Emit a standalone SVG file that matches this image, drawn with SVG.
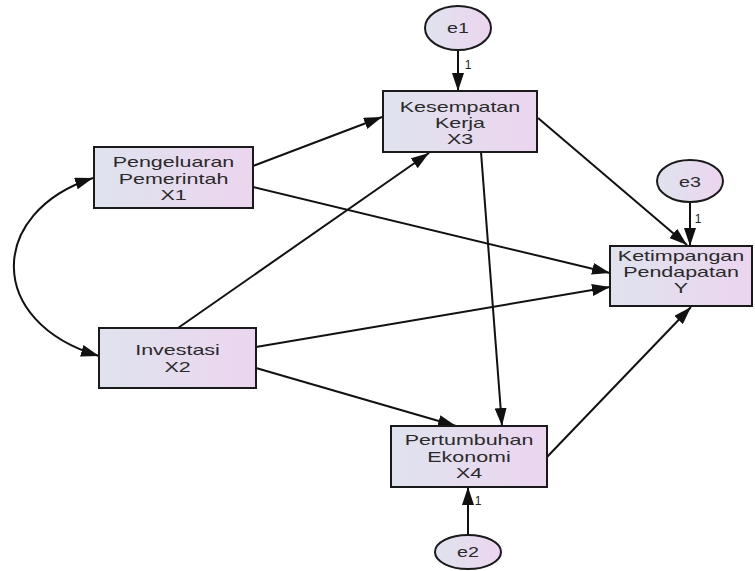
<svg xmlns="http://www.w3.org/2000/svg" width="755" height="571" viewBox="0 0 755 571">
<defs>
<linearGradient id="g" x1="0" y1="0" x2="1" y2="0">
<stop offset="0" stop-color="#dfe3ee"/>
<stop offset="1" stop-color="#ecd5ef"/>
</linearGradient>
<marker id="ah" markerUnits="userSpaceOnUse" markerWidth="18" markerHeight="12" refX="18" refY="6" orient="auto-start-reverse" viewBox="0 0 18 12">
<path d="M0,0 L18,6 L0,12 z" fill="#111"/>
</marker>
</defs>
<style>
.box{fill:url(#g);stroke:#1a1a1a;stroke-width:2}
.t{font-family:"Liberation Sans",Arial,sans-serif;font-size:14.5px;text-anchor:middle;fill:#2a2a2a}
.te{font-family:"Liberation Sans",Arial,sans-serif;font-size:14.5px;text-anchor:middle;fill:#2a2a2a}
.tl{font-family:"Liberation Sans",Arial,sans-serif;font-size:12px;text-anchor:middle;fill:#222}
.c{stroke:#111;stroke-width:2;fill:none;marker-end:url(#ah)}
</style>
<rect width="755" height="571" fill="#fff"/>
<g id="connectors">
<path class="c" d="M93,178 C-12,212 -15,322 99,356" marker-start="url(#ah)"/>
<line class="c" x1="253" y1="166" x2="382" y2="117"/>
<line class="c" x1="253" y1="187" x2="610" y2="273"/>
<line class="c" x1="178" y1="328" x2="429" y2="153"/>
<line class="c" x1="256" y1="347" x2="610" y2="287"/>
<line class="c" x1="256" y1="368" x2="456" y2="426"/>
<line class="c" x1="481" y1="152" x2="502" y2="426"/>
<line class="c" x1="538" y1="118" x2="687" y2="245"/>
<line class="c" x1="547" y1="457" x2="691" y2="307"/>
<line class="c" x1="458" y1="50" x2="458" y2="91"/>
<line class="c" x1="690" y1="202" x2="690" y2="246"/>
<line class="c" x1="468" y1="535" x2="468" y2="487"/>
<text class="tl" x="468" y="69">1</text>
<text class="tl" x="698" y="223">1</text>
<text class="tl" x="478" y="505">1</text>
</g>
<g id="e1">
<ellipse class="box" cx="458" cy="28" rx="33" ry="22"/>
<text class="te" transform="translate(458,33) scale(1.36,1)">e1</text>
</g>
<g id="e3">
<ellipse class="box" cx="690" cy="181" rx="33" ry="21"/>
<text class="te" transform="translate(690,187) scale(1.36,1)">e3</text>
</g>
<g id="e2">
<ellipse class="box" cx="468" cy="552" rx="33" ry="17"/>
<text class="te" transform="translate(468,557) scale(1.36,1)">e2</text>
</g>
<g id="X1">
<rect class="box" x="94" y="147" width="159" height="61"/>
<text class="t" transform="translate(173.5,167) scale(1.48,1)">Pengeluaran</text>
<text class="t" transform="translate(173.5,184) scale(1.48,1)">Pemerintah</text>
<text class="t" transform="translate(173.5,200) scale(1.48,1)">X1</text>
</g>
<g id="X3">
<rect class="box" x="383" y="91" width="154" height="61"/>
<text class="t" transform="translate(460,112) scale(1.48,1)">Kesempatan</text>
<text class="t" transform="translate(460,128) scale(1.48,1)">Kerja</text>
<text class="t" transform="translate(460,144) scale(1.48,1)">X3</text>
</g>
<g id="Y">
<rect class="box" x="610" y="246" width="142" height="60"/>
<text class="t" transform="translate(681,261) scale(1.48,1)">Ketimpangan</text>
<text class="t" transform="translate(681,277) scale(1.48,1)">Pendapatan</text>
<text class="t" transform="translate(681,293) scale(1.48,1)">Y</text>
</g>
<g id="X2">
<rect class="box" x="99" y="328" width="157" height="60"/>
<text class="t" transform="translate(177.5,355) scale(1.48,1)">Investasi</text>
<text class="t" transform="translate(177.5,372) scale(1.48,1)">X2</text>
</g>
<g id="X4">
<rect class="box" x="391" y="426" width="156" height="61"/>
<text class="t" transform="translate(469,445) scale(1.48,1)">Pertumbuhan</text>
<text class="t" transform="translate(469,462) scale(1.48,1)">Ekonomi</text>
<text class="t" transform="translate(469,478) scale(1.48,1)">X4</text>
</g>
</svg>
